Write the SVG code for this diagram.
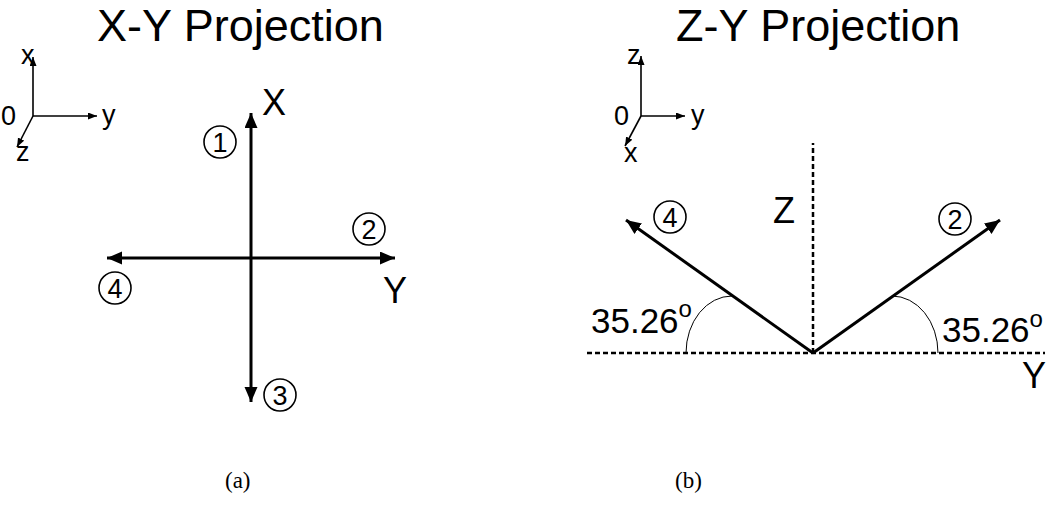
<svg xmlns="http://www.w3.org/2000/svg" width="1056" height="512" viewBox="0 0 1056 512">
<style>
text{font-family:"Liberation Sans",Arial,sans-serif;fill:#000}
.title{font-size:45px}
.ax{font-size:27px}
.big{font-size:36px}
.num{font-size:27px}
.deg{font-size:35px}
.cap{font-family:"Liberation Serif","Times New Roman",serif;font-size:23px}
.thin{stroke:#000;stroke-width:1.6;fill:none}
.main{stroke:#000;stroke-width:3;fill:none}
.dash{stroke:#000;stroke-width:2.5;fill:none;stroke-dasharray:5,3}
.arc{stroke:#000;stroke-width:1;fill:none}
.circ{stroke:#000;stroke-width:1.6;fill:none}
</style>
<defs>
<marker id="big" markerUnits="userSpaceOnUse" markerWidth="16" markerHeight="14" refX="15" refY="6.5" orient="auto-start-reverse" viewBox="0 0 16 14">
<path d="M0,0 L15,6.5 L0,13 z" fill="#000"/>
</marker>
<marker id="small" markerUnits="userSpaceOnUse" markerWidth="10" markerHeight="8" refX="9" refY="3.5" orient="auto" viewBox="0 0 10 8">
<path d="M0,0 L9,3.5 L0,7 z" fill="#000"/>
</marker>
</defs>

<g id="titles">
<text class="title" x="97" y="41">X-Y Projection</text>
<text class="title" x="676" y="41">Z-Y Projection</text>
</g>

<g id="axes-a">
<line class="thin" x1="33" y1="116" x2="33" y2="57" marker-end="url(#small)"/>
<line class="thin" x1="33" y1="116" x2="97" y2="116" marker-end="url(#small)"/>
<line class="thin" x1="33" y1="116" x2="17" y2="147" marker-end="url(#small)"/>
<text class="ax" x="21" y="64">x</text>
<text class="ax" x="102" y="124">y</text>
<text class="ax" x="1" y="125">0</text>
<text class="ax" x="16" y="161">z</text>
</g>

<g id="axes-b">
<line class="thin" x1="641" y1="116" x2="641" y2="56" marker-end="url(#small)"/>
<line class="thin" x1="641" y1="116" x2="685" y2="116" marker-end="url(#small)"/>
<line class="thin" x1="641" y1="116" x2="625" y2="146" marker-end="url(#small)"/>
<text class="ax" x="627" y="64">z</text>
<text class="ax" x="691" y="124">y</text>
<text class="ax" x="614" y="125">0</text>
<text class="ax" x="624" y="162">x</text>
</g>

<g id="connectors">
<line class="main" x1="251" y1="402" x2="251" y2="113" marker-start="url(#big)" marker-end="url(#big)"/>
<line class="main" x1="107" y1="258" x2="395" y2="258" marker-start="url(#big)" marker-end="url(#big)"/>
<line class="dash" x1="813" y1="353" x2="813" y2="143"/>
<line class="dash" x1="587" y1="353" x2="1045" y2="353"/>
<line class="main" x1="813" y1="353" x2="626" y2="220" marker-end="url(#big)"/>
<line class="main" x1="813" y1="353" x2="1000" y2="220" marker-end="url(#big)"/>
<path class="arc" d="M686,353 A46,57 0 0 1 732,296"/>
<path class="arc" d="M938,353 A46,57 0 0 0 892,296"/>
</g>

<g id="labels-a">
<text class="big" x="262" y="115">X</text>
<text class="big" x="383" y="303">Y</text>
</g>

<g id="c1"><circle class="circ" cx="220" cy="142" r="16"/><text class="num" x="220" y="151.5" text-anchor="middle">1</text></g>
<g id="c2a"><circle class="circ" cx="369" cy="229" r="16"/><text class="num" x="369" y="238.5" text-anchor="middle">2</text></g>
<g id="c3"><circle class="circ" cx="280" cy="395" r="16"/><text class="num" x="280" y="404.5" text-anchor="middle">3</text></g>
<g id="c4a"><circle class="circ" cx="115" cy="288" r="16"/><text class="num" x="115" y="297.5" text-anchor="middle">4</text></g>

<g id="labels-b">
<text class="big" x="773" y="223">Z</text>
<text class="big" x="1022" y="388">Y</text>
<text class="deg" x="591" y="333">35.26<tspan font-size="24" dy="-16">o</tspan></text>
<text class="deg" x="942" y="342">35.26<tspan font-size="24" dy="-15">o</tspan></text>
</g>

<g id="c4b"><circle class="circ" cx="670" cy="217" r="16"/><text class="num" x="670" y="226.5" text-anchor="middle">4</text></g>
<g id="c2b"><circle class="circ" cx="955" cy="219" r="16"/><text class="num" x="955" y="228.5" text-anchor="middle">2</text></g>

<g id="captions">
<text class="cap" x="225" y="488">(a)</text>
<text class="cap" x="675" y="488">(b)</text>
</g>
</svg>
